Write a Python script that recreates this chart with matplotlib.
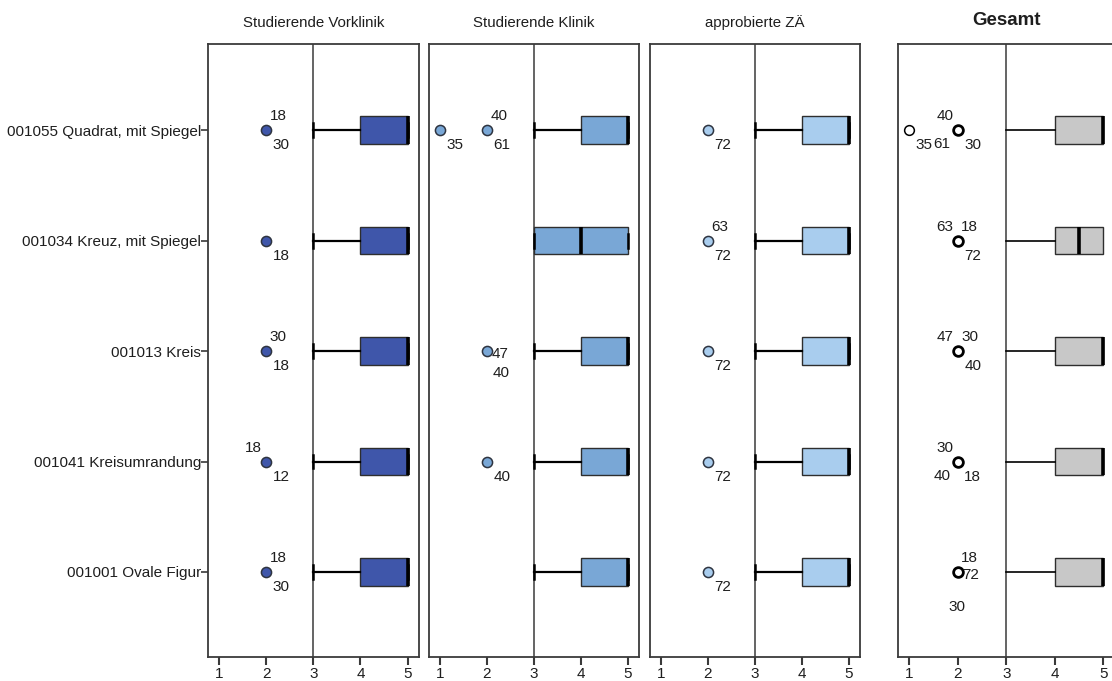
import matplotlib.pyplot as plt

plt.rcParams['font.family'] = ['Liberation Sans', 'DejaVu Sans']

# items (rows, top to bottom) and rater groups (panels)
items = ["001055 Quadrat, mit Spiegel", "001034 Kreuz, mit Spiegel", "001013 Kreis",
         "001041 Kreisumrandung", "001001 Ovale Figur"]
groups = ["Studierende Vorklinik", "Studierende Klinik", "approbierte ZÄ", "Gesamt"]

# box statistics per group, one value per item
whislo = [[3, 3, 3, 3, 3], [3, 3, 3, 3, 3], [3, 3, 3, 3, 3], [3, 3, 3, 3, 3]]
q1 = [[4, 4, 4, 4, 4], [4, 3, 4, 4, 4], [4, 4, 4, 4, 4], [4, 4, 4, 4, 4]]
med = [[5, 5, 5, 5, 5], [5, 4, 5, 5, 5], [5, 5, 5, 5, 5], [5, 4.5, 5, 5, 5]]
q3 = [[5, 5, 5, 5, 5], [5, 5, 5, 5, 5], [5, 5, 5, 5, 5], [5, 5, 5, 5, 5]]
whishi = [[5, 5, 5, 5, 5], [5, 5, 5, 5, 5], [5, 5, 5, 5, 5], [5, 5, 5, 5, 5]]

# outliers: (rating, case numbers) per item
out_vorklinik = [[(2, [18, 30])], [(2, [18])], [(2, [30, 18])], [(2, [18, 12])], [(2, [18, 30])]]
out_klinik = [[(1, [35]), (2, [40, 61])], [], [(2, [47, 40])], [(2, [40])], []]
out_za = [[(2, [72])], [(2, [63, 72])], [(2, [72])], [(2, [72])], [(2, [72])]]
out_gesamt = [[(1, [35]), (2, [40, 61, 30])], [(2, [63, 18, 72])], [(2, [47, 30, 40])],
              [(2, [30, 40, 18])], [(2, [18, 72, 30])]]
outliers = [out_vorklinik, out_klinik, out_za, out_gesamt]

# where each case label sits around its point
lab_vorklinik = [[['ar', 'br']], [['br']], [['ar', 'br']], [['al', 'br']], [['ar', 'br']]]
lab_klinik = [[['br'], ['ar', 'br']], [], [['r', 'bb']], [['br']], []]
lab_za = [[['br']], [['ar', 'br']], [['br']], [['br']], [['br']]]
lab_gesamt = [[['br'], ['al', 'bl', 'br']], [['al', 'ar', 'br']], [['al', 'ar', 'br']],
              [['al', 'bl', 'br']], [['ar', 'r', 'b2']]]
label_spots = [lab_vorklinik, lab_klinik, lab_za, lab_gesamt]
offsets = {'ar': (12, 14), 'br': (15, -15), 'al': (-13, 14), 'bl': (-16, -14),
           'r': (13, -3), 'bb': (14, -22), 'b2': (-1, -35)}

colors = ['#3f56aa', '#79a7d6', '#a9cdee', '#c8c8c8']
ink = '#1e1e1e'

fig = plt.figure(figsize=(11.12, 6.81), dpi=100)
W, H = 1112, 681
lefts = [208, 429, 650, 898]
widths = [211, 210, 210, 217]
top, bottom = 44, 657

for g, name in enumerate(groups):
    ax = fig.add_axes([lefts[g] / W, 1 - bottom / H, widths[g] / W, (bottom - top) / H])
    gesamt = name == "Gesamt"
    ax.axvline(3, color='#4a4a4a', lw=1.2, zorder=1)

    stats = [dict(whislo=whislo[g][i], q1=q1[g][i], med=med[g][i], q3=q3[g][i],
                  whishi=whishi[g][i], fliers=[]) for i in range(len(items))]
    ax.bxp(stats, positions=range(len(items)), widths=0.25, orientation='horizontal',
           patch_artist=True, showfliers=False, showcaps=not gesamt, capwidths=0.125,
           manage_ticks=False,
           boxprops=dict(facecolor=colors[g], edgecolor='#2e2e2e', lw=1.0),
           medianprops=dict(color='black', lw=2.6),
           whiskerprops=dict(color='black', lw=1.2 if gesamt else 1.6),
           capprops=dict(color='black', lw=1.8))

    for i in range(len(items)):
        for k, (val, ids) in enumerate(outliers[g][i]):
            if gesamt:
                ax.plot(val, i, 'o', ms=7, mfc='white', mec='black',
                        mew=2.0 if len(ids) > 1 else 1.1, zorder=4)
            else:
                ax.plot(val, i, 'o', ms=7.3, mfc=colors[g], mec='#2e3440', mew=1.1, zorder=4)
            for cid, spot in zip(ids, label_spots[g][i][k]):
                dx, dy = offsets[spot]
                ax.annotate(str(cid), (val, i), xytext=(dx, dy), textcoords='offset pixels',
                            ha='center', va='center', fontsize=11, color=ink)

    ax.set_xlim(0.77, 5.24)
    ax.set_ylim(4.77, -0.78)
    ax.set_xticks([1, 2, 3, 4, 5])
    ax.tick_params(axis='x', length=5.5, width=1.5, color='#3a3a3a', labelsize=11,
                   labelcolor=ink, pad=2)
    if g == 0:
        ax.set_yticks(range(len(items)))
        ax.set_yticklabels(items)
        ax.tick_params(axis='y', length=5, width=1.2, color='#3a3a3a', labelsize=11,
                       labelcolor=ink, pad=0)
    else:
        ax.set_yticks([])
    for s in ax.spines.values():
        s.set_color('#3a3a3a')
        s.set_linewidth(1.3)

    if gesamt:
        ax.set_title(name, fontsize=13.5, fontweight='bold', color=ink, pad=14)
    else:
        ax.set_title(name, fontsize=10.8, color=ink, pad=12)

fig.savefig('out.png', dpi=100)
